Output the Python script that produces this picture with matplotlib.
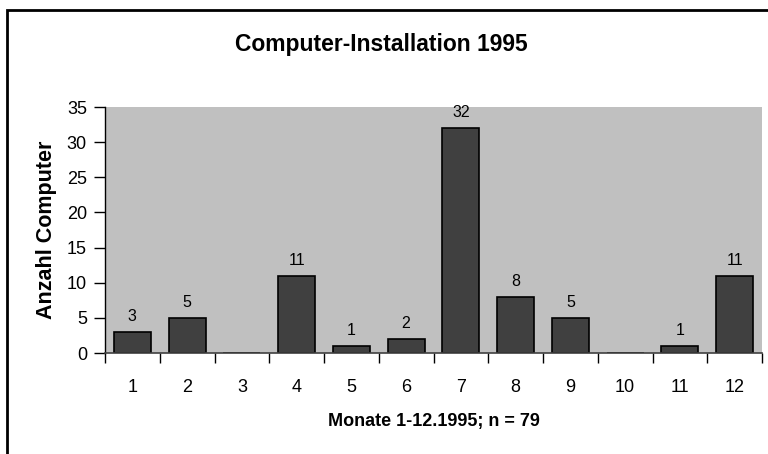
import matplotlib
matplotlib.use("Agg")
import matplotlib.pyplot as plt
from matplotlib.patches import Rectangle
import numpy as np

months = ["1", "2", "3", "4", "5", "6", "7", "8", "9", "10", "11", "12"]
counts = [3, 5, 0, 11, 1, 2, 32, 8, 5, 0, 1, 11]
yticks = [0, 5, 10, 15, 20, 25, 30, 35]

plt.rcParams['font.family'] = ['Liberation Sans', 'DejaVu Sans']

W, H = 768, 454
fig = plt.figure(figsize=(W/100, H/100), dpi=100)
fig.patch.set_facecolor('white')

# outer frame (extends past right/bottom edges)
fig.patches.append(Rectangle((7/W, -0.1), 1.2, 1 - 10/H + 0.1, transform=fig.transFigure,
                             fill=False, edgecolor='black', linewidth=2))

ax = fig.add_axes([105/W, 1 - 353/H, (762-105)/W, (353-107)/H])
ax.set_facecolor('#C0C0C0')
x = np.arange(len(months))
ax.bar(x, counts, width=0.68, color='#404040', edgecolor='black', linewidth=1.2, zorder=2)
for xi, v in zip(x, counts):
    if v > 0:
        ax.text(xi, v + 1.1, str(v), ha='center', va='bottom', fontsize=11.5)

ax.set_xlim(-0.5, len(months) - 0.5)
ax.set_ylim(0, 35)
ax.set_yticks(yticks)
ax.set_yticklabels([str(t) for t in yticks], fontsize=13)
ax.set_xticks(x)
ax.set_xticklabels(months, fontsize=13)
ax.tick_params(axis='x', which='major', length=0, pad=19)
ax.set_xticks(np.arange(-0.5, len(months)), minor=True)
ax.tick_params(axis='x', which='minor', length=7, width=1, direction='out')
ax.tick_params(axis='y', length=8, width=1, direction='out', pad=5)
for s in ['top', 'right']:
    ax.spines[s].set_visible(False)
ax.spines['left'].set_linewidth(1)
ax.spines['bottom'].set_linewidth(1.2)
ax.spines['bottom'].set_color('#404040')
ax.spines['bottom'].set_zorder(3)

ax.set_xlabel("Monate 1-12.1995; n = 79", fontsize=13, fontweight='bold', labelpad=12)
ax.set_ylabel("Anzahl Computer", fontsize=15.5, fontweight='bold', labelpad=7)

fig.text(381/W, 1 - 45/H, "Computer-Installation 1995", ha='center', va='center',
         fontsize=16.5, fontweight='bold')

fig.savefig("out.png", dpi=100)
